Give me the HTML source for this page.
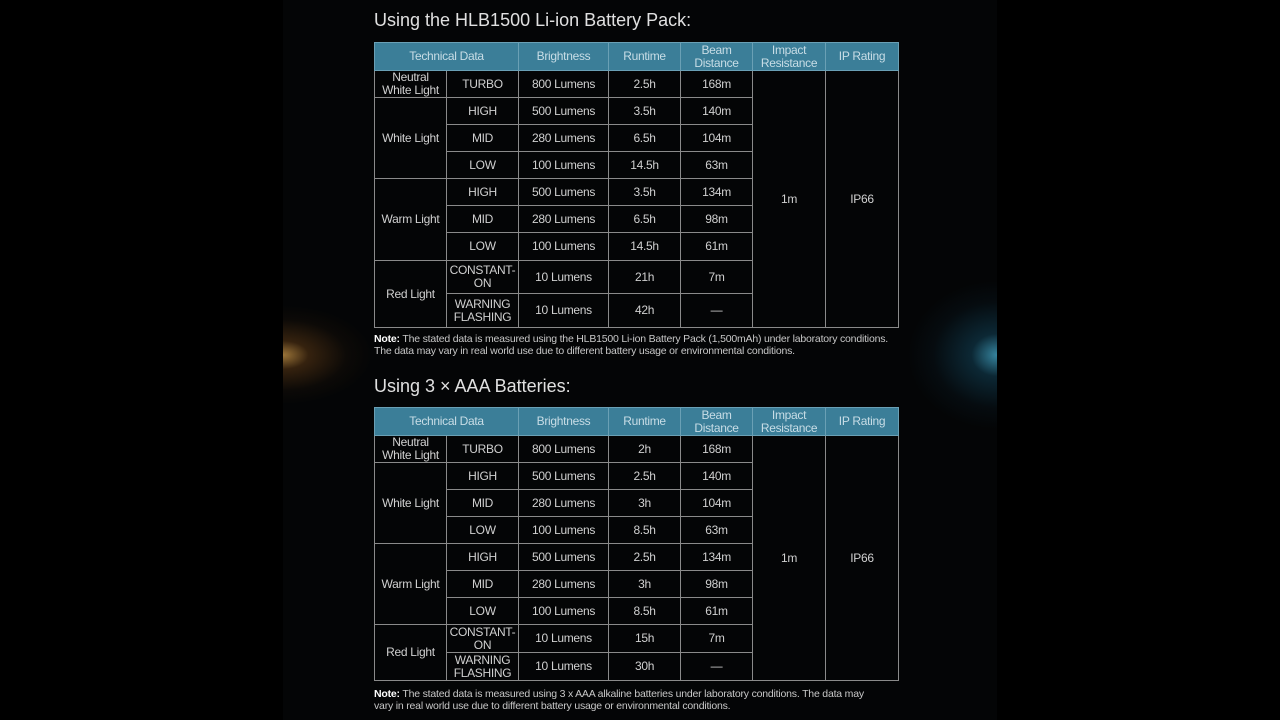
<!DOCTYPE html>
<html><head><meta charset="utf-8"><style>
html,body{margin:0;padding:0;background:#000;width:1280px;height:720px;overflow:hidden;font-family:"Liberation Sans",sans-serif;}
#panel{position:absolute;left:283px;top:0;width:714px;height:720px;background:#040506;overflow:hidden;}
.glowL{position:absolute;left:-90px;top:305px;width:180px;height:100px;background:radial-gradient(ellipse at center,rgba(255,190,90,0.6) 0%,rgba(200,120,40,0.25) 20%,rgba(120,70,20,0.07) 50%,rgba(0,0,0,0) 70%);}
.glowR{position:absolute;left:624px;top:280px;width:180px;height:150px;background:radial-gradient(ellipse at center,rgba(80,200,240,0.65) 0%,rgba(30,120,160,0.3) 20%,rgba(20,70,100,0.1) 50%,rgba(0,0,0,0) 70%);}
.title{position:absolute;left:374px;color:#e0e0e0;font-size:18px;white-space:nowrap;}
table{position:absolute;left:374px;border-collapse:collapse;table-layout:fixed;width:524px;}
td{border:1px solid #8a8a8a;color:#d0d0d0;font-size:12px;text-align:center;padding:0;line-height:13px;letter-spacing:-0.3px;}
tr.h td{background:#3b7e98;color:#c8dde6;border-color:#6aa0b5;}
.note{position:absolute;left:374px;width:560px;color:#c8c8c8;font-size:10.5px;line-height:12px;letter-spacing:-0.2px;white-space:nowrap;}
.note b{color:#fff}
</style></head><body>
<div id="panel"><div class="glowL"></div><div class="glowR"></div></div>

<div class="title" style="top:10px">Using the HLB1500 Li-ion Battery Pack:</div>
<table style="top:42px">
<colgroup><col style="width:72px"><col style="width:72px"><col style="width:90px"><col style="width:72px"><col style="width:72px"><col style="width:73px"><col style="width:73px"></colgroup>
<tr class="h" style="height:28px"><td colspan="2">Technical Data</td><td>Brightness</td><td>Runtime</td><td>Beam<br>Distance</td><td>Impact<br>Resistance</td><td>IP Rating</td></tr>
<tr style="height:27px"><td>Neutral<br>White Light</td><td>TURBO</td><td>800 Lumens</td><td>2.5h</td><td>168m</td><td rowspan="9">1m</td><td rowspan="9">IP66</td></tr>
<tr style="height:27px"><td rowspan="3">White Light</td><td>HIGH</td><td>500 Lumens</td><td>3.5h</td><td>140m</td></tr>
<tr style="height:27px"><td>MID</td><td>280 Lumens</td><td>6.5h</td><td>104m</td></tr>
<tr style="height:27px"><td>LOW</td><td>100 Lumens</td><td>14.5h</td><td>63m</td></tr>
<tr style="height:27px"><td rowspan="3">Warm Light</td><td>HIGH</td><td>500 Lumens</td><td>3.5h</td><td>134m</td></tr>
<tr style="height:27px"><td>MID</td><td>280 Lumens</td><td>6.5h</td><td>98m</td></tr>
<tr style="height:28px"><td>LOW</td><td>100 Lumens</td><td>14.5h</td><td>61m</td></tr>
<tr style="height:33px"><td rowspan="2">Red Light</td><td>CONSTANT-<br>ON</td><td>10 Lumens</td><td>21h</td><td>7m</td></tr>
<tr style="height:34px"><td>WARNING<br>FLASHING</td><td>10 Lumens</td><td>42h</td><td>—</td></tr>
</table>
<div class="note" style="top:333px"><b>Note:</b> The stated data is measured using the HLB1500 Li-ion Battery Pack (1,500mAh) under laboratory conditions.<br>The data may vary in real world use due to different battery usage or environmental conditions.</div>

<div class="title" style="top:376px">Using 3 × AAA Batteries:</div>
<table style="top:407px">
<colgroup><col style="width:72px"><col style="width:72px"><col style="width:90px"><col style="width:72px"><col style="width:72px"><col style="width:73px"><col style="width:73px"></colgroup>
<tr class="h" style="height:28px"><td colspan="2">Technical Data</td><td>Brightness</td><td>Runtime</td><td>Beam<br>Distance</td><td>Impact<br>Resistance</td><td>IP Rating</td></tr>
<tr style="height:27px"><td>Neutral<br>White Light</td><td>TURBO</td><td>800 Lumens</td><td>2h</td><td>168m</td><td rowspan="9">1m</td><td rowspan="9">IP66</td></tr>
<tr style="height:27px"><td rowspan="3">White Light</td><td>HIGH</td><td>500 Lumens</td><td>2.5h</td><td>140m</td></tr>
<tr style="height:27px"><td>MID</td><td>280 Lumens</td><td>3h</td><td>104m</td></tr>
<tr style="height:27px"><td>LOW</td><td>100 Lumens</td><td>8.5h</td><td>63m</td></tr>
<tr style="height:27px"><td rowspan="3">Warm Light</td><td>HIGH</td><td>500 Lumens</td><td>2.5h</td><td>134m</td></tr>
<tr style="height:27px"><td>MID</td><td>280 Lumens</td><td>3h</td><td>98m</td></tr>
<tr style="height:27px"><td>LOW</td><td>100 Lumens</td><td>8.5h</td><td>61m</td></tr>
<tr style="height:28px"><td rowspan="2">Red Light</td><td>CONSTANT-<br>ON</td><td>10 Lumens</td><td>15h</td><td>7m</td></tr>
<tr style="height:28px"><td>WARNING<br>FLASHING</td><td>10 Lumens</td><td>30h</td><td>—</td></tr>
</table>
<div class="note" style="top:688px"><b>Note:</b> The stated data is measured using 3 x AAA alkaline batteries under laboratory conditions. The data may<br>vary in real world use due to different battery usage or environmental conditions.</div>
</body></html>
